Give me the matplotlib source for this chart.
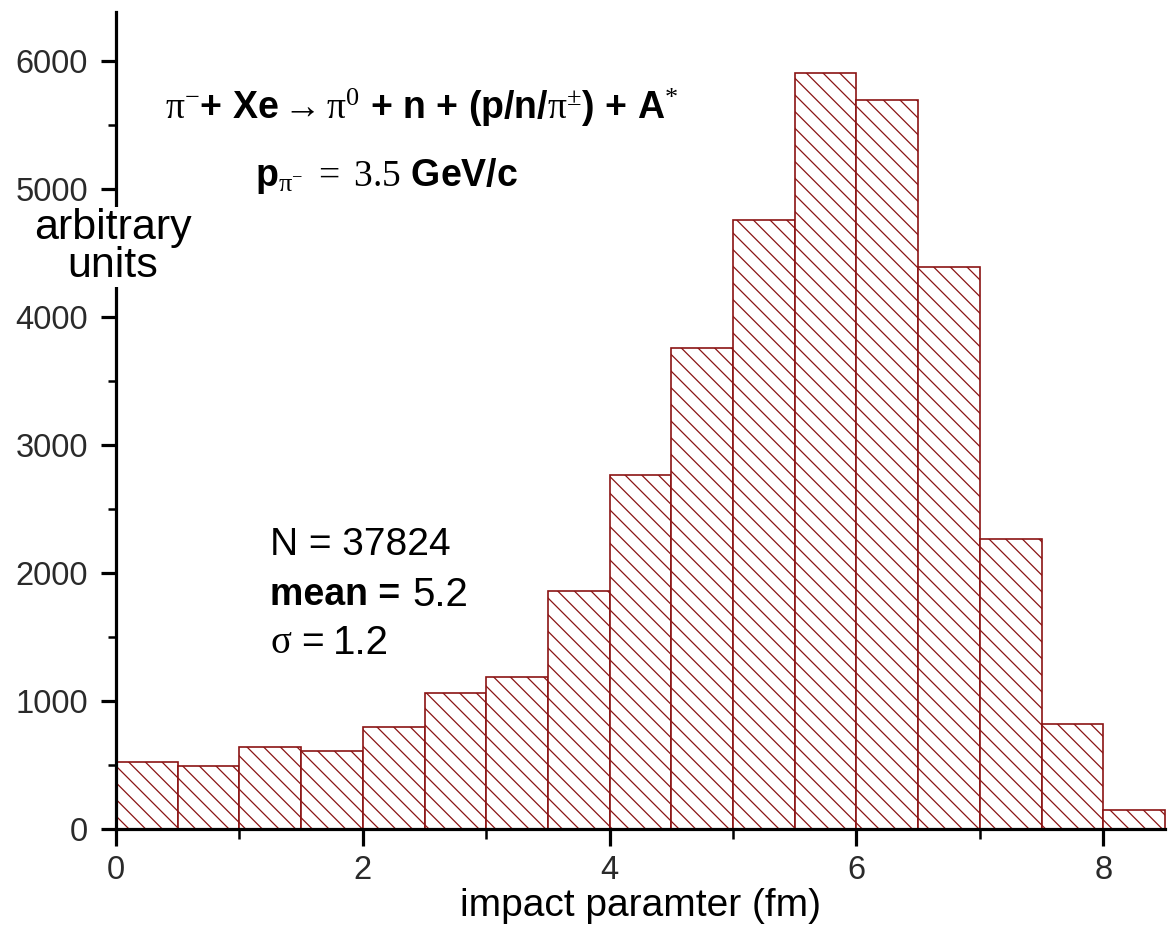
import matplotlib
matplotlib.use("Agg")
import matplotlib.pyplot as plt
from matplotlib.ticker import MultipleLocator, FixedLocator

# ---- data ----
bin_left = [0.0, 0.5, 1.0, 1.5, 2.0, 2.5, 3.0, 3.5, 4.0, 4.5, 5.0, 5.5, 6.0, 6.5, 7.0, 7.5, 8.0]
bin_width = 0.5
counts = [526, 492, 638, 609, 799, 1060, 1190, 1859, 2766, 3758, 4755, 5909, 5693, 4393, 2266, 818, 148]
x_ticks = [0, 2, 4, 6, 8]
y_ticks = [0, 1000, 2000, 3000, 4000, 5000, 6000]

plt.rcParams['font.family'] = ['Liberation Sans', 'DejaVu Sans']
plt.rcParams['mathtext.fontset'] = 'custom'
plt.rcParams['mathtext.rm'] = 'Liberation Serif'
plt.rcParams['mathtext.it'] = 'Liberation Serif:italic'
plt.rcParams['mathtext.bf'] = 'Liberation Serif:bold'
plt.rcParams['hatch.linewidth'] = 0.9

W, H = 1172, 930
fig = plt.figure(figsize=(W / 100, H / 100), dpi=100)
ax = fig.add_axes([116 / W, (H - 829) / H, (1165 - 116) / W, (829 - 12) / H])

edge = '#8b1414'
ax.bar(bin_left, counts, width=bin_width, align='edge', facecolor='white',
       edgecolor=edge, hatch='\\\\', linewidth=1.2, clip_on=False, zorder=1)

ax.set_xlim(0, 8.5)
ax.set_ylim(0, 6383)
for s in ['top', 'right']:
    ax.spines[s].set_visible(False)
for s in ['left', 'bottom']:
    ax.spines[s].set_linewidth(2.3)
    ax.spines[s].set_zorder(3)

ax.xaxis.set_major_locator(FixedLocator(x_ticks))
ax.xaxis.set_minor_locator(FixedLocator([1, 3, 5, 7]))
ax.yaxis.set_major_locator(FixedLocator(y_ticks))
ax.yaxis.set_minor_locator(MultipleLocator(500))
ax.tick_params(axis='both', which='major', direction='out', width=2.3,
               labelsize=23.5, labelcolor='#2a2a2a')
ax.tick_params(axis='y', which='major', length=11, pad=9)
ax.tick_params(axis='x', which='major', length=12, pad=7)
ax.tick_params(axis='y', which='minor', length=6, width=1.8, direction='out')
ax.tick_params(axis='x', which='minor', length=7, width=1.8, direction='out')

ax.set_xlabel('impact paramter (fm)', fontsize=28, labelpad=1)

def px(x, y):
    return x / W, 1 - y / H

fig.text(*px(113, 247), 'arbitrary\nunits', fontsize=31, ha='center', va='center',
         linespacing=0.92, color='black',
         bbox=dict(facecolor='white', edgecolor='none', pad=1), zorder=10)

fig.text(*px(165, 108),
         r'$\mathrm{\pi}^{-}$+ Xe$\rightarrow\mathrm{\pi}^{0}$ + n + (p/n/$\mathrm{\pi}^{\pm}$) + A$^{*}$',
         fontsize=27, ha='left', va='center', fontweight='bold')
fig.text(*px(255, 176), r'p$_{\mathrm{\pi}^{-}}\mathrm{\ =\ 3.5}$ GeV/c',
         fontsize=27, ha='left', va='center', fontweight='bold')

fig.text(*px(270, 545), 'N = 37824', fontsize=28, ha='left', va='center')
fig.text(*px(270, 595), 'mean =', fontsize=27, ha='left', va='center', fontweight='bold')
fig.text(*px(412, 595), '5.2', fontsize=29, ha='left', va='center')
fig.text(*px(270, 643), r'$\mathrm{\sigma}$ =', fontsize=28, ha='left', va='center')
fig.text(*px(333, 643), '1.2', fontsize=29, ha='left', va='center')

fig.savefig('out.png', dpi=100)
